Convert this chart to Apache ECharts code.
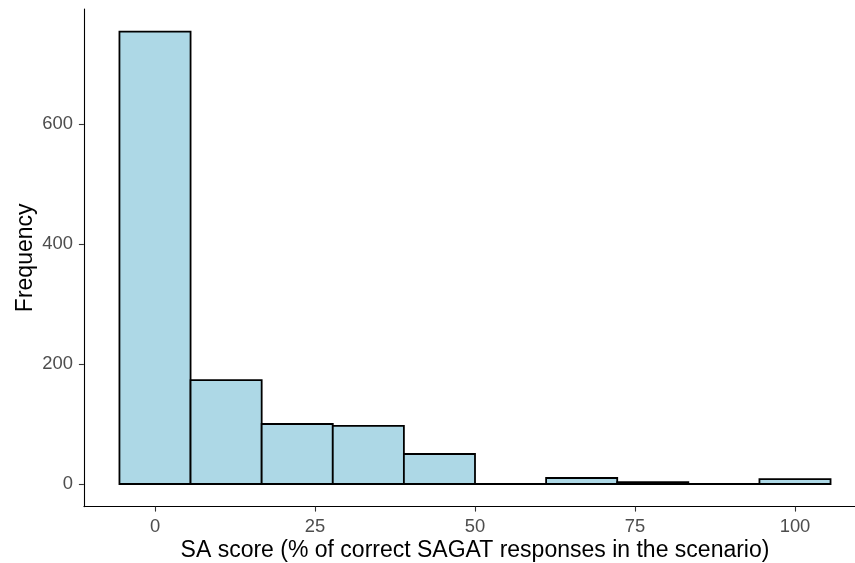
<!DOCTYPE html>
<html>
<head>
<meta charset="utf-8">
<script src="https://cdn.jsdelivr.net/npm/echarts@6/dist/echarts.min.js"></script>
<style>
  html, body { margin: 0; padding: 0; background: #ffffff; }
  #chart { width: 855px; height: 563px; }
</style>
</head>
<body>
<div id="chart"></div>
<script>
// Histogram of SA scores: bin centres (percent) and counts per bin
const binWidth = 100 / 9;
const binCenters = [0, 11.111, 22.222, 33.333, 44.444, 55.556, 66.667, 77.778, 88.889, 100];
const binCounts = [754, 173, 100, 97, 50, 0, 10, 3, 0, 8];
const xTicks = [0, 25, 50, 75, 100];
const yTicks = [0, 200, 400, 600];

const histData = binCenters.map((c, i) => [c - binWidth / 2, c + binWidth / 2, binCounts[i]]);

const xSpan = histData[histData.length - 1][1] - histData[0][0];
const xPad = xSpan * 0.05;
const yMax = Math.max(...binCounts);
const yPad = yMax * 0.05;

const tickFont = { fontFamily: 'Liberation Sans, Arial, sans-serif', fontSize: 18.4, color: '#4D4D4D' };
const titleFont = { fontFamily: 'Liberation Sans, Arial, sans-serif', fontSize: 23, color: '#000000' };

const chart = echarts.init(document.getElementById('chart'), null, { renderer: 'canvas' });
chart.setOption({
  backgroundColor: '#ffffff',
  animation: false,
  grid: { left: 83.9, top: 9, width: 782.2, height: 497.6, containLabel: false, outerBoundsMode: 'none' },
  xAxis: {
    type: 'value',
    min: histData[0][0] - xPad,
    max: histData[histData.length - 1][1] + xPad,
    name: 'SA score (% of correct SAGAT responses in the scenario)',
    nameLocation: 'middle',
    nameGap: 33,
    nameMoveOverlap: false,
    nameTextStyle: titleFont,
    splitLine: { show: false },
    axisLine: { show: true, onZero: false, lineStyle: { color: '#000000', width: 1.1 } },
    axisTick: { show: true, length: 5, customValues: xTicks, lineStyle: { color: '#333333', width: 1.1 } },
    axisLabel: { show: true, margin: 11, customValues: xTicks, ...tickFont }
  },
  yAxis: {
    type: 'value',
    min: -yPad,
    max: yMax + yPad,
    name: 'Frequency',
    nameLocation: 'middle',
    nameRotate: 90,
    nameGap: 47,
    nameMoveOverlap: false,
    nameTextStyle: titleFont,
    splitLine: { show: false },
    axisLine: { show: true, onZero: false, lineStyle: { color: '#000000', width: 1.1 } },
    axisTick: { show: true, length: 5, customValues: yTicks, lineStyle: { color: '#333333', width: 1.1 } },
    axisLabel: { show: true, margin: 11, customValues: yTicks, ...tickFont }
  },
  series: [{
    type: 'custom',
    clip: false,
    data: histData,
    encode: { x: [0, 1], y: 2 },
    renderItem: function (params, api) {
      const p0 = api.coord([api.value(0), api.value(2)]);
      const p1 = api.coord([api.value(1), 0]);
      return {
        type: 'rect',
        shape: { x: p0[0], y: p0[1], width: p1[0] - p0[0], height: p1[1] - p0[1] },
        style: { fill: '#ADD8E6', stroke: '#000000', lineWidth: 1.8 }
      };
    }
  }]
});
</script>
</body>
</html>
